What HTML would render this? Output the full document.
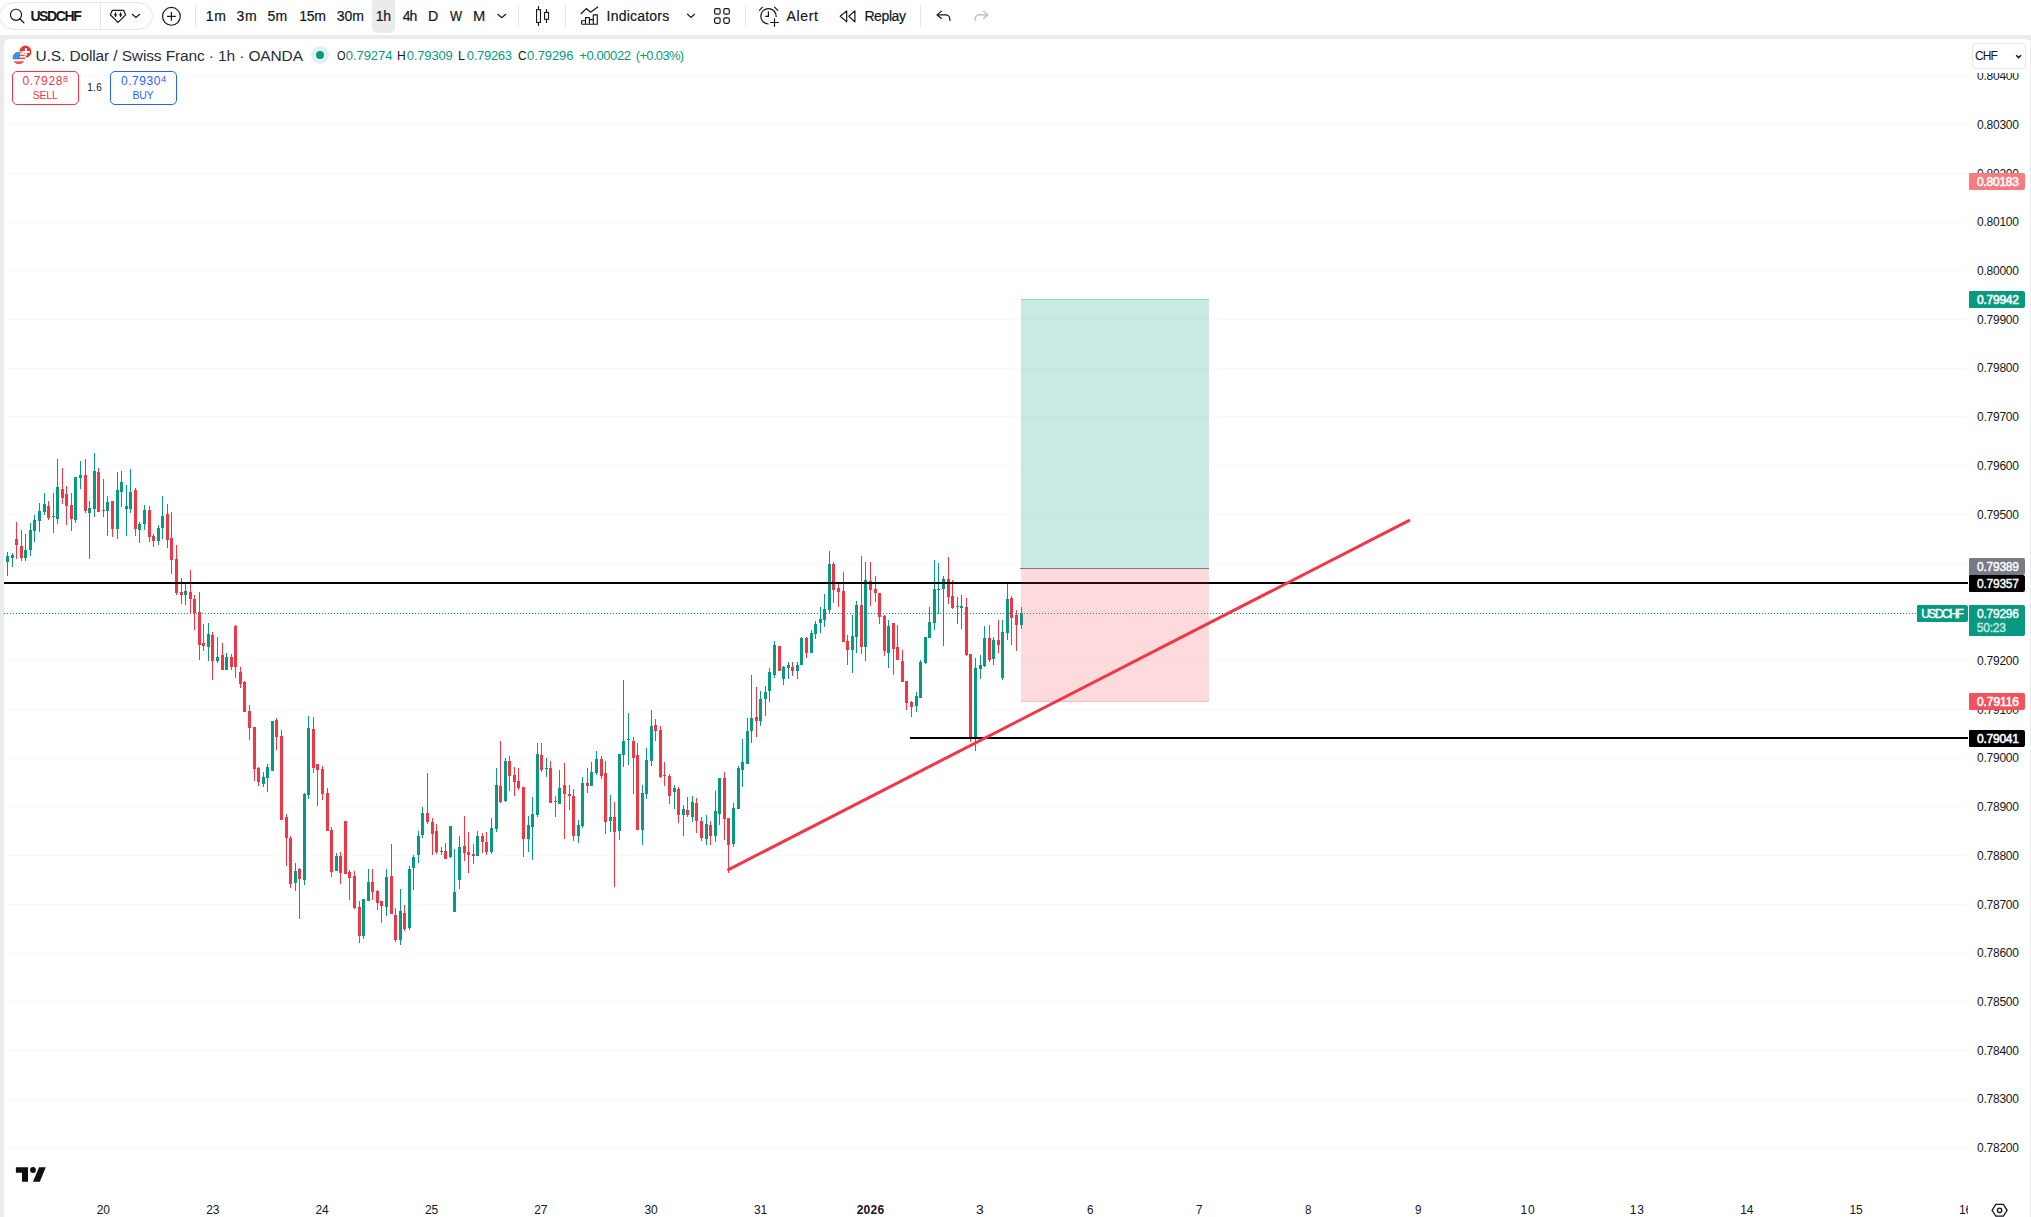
<!DOCTYPE html>
<html><head><meta charset="utf-8"><title>USDCHF</title>
<style>
*{box-sizing:border-box;margin:0;padding:0}
html,body{width:2031px;height:1217px;overflow:hidden;background:#ebebeb;font-family:"Liberation Sans",sans-serif;color:#131722}
#tb{position:absolute;left:0;top:0;width:2031px;height:35px;background:#fff}
#pane{position:absolute;left:4px;top:38.5px;width:2026px;height:1190px;background:#fff;border-radius:5px}
.t{position:absolute;white-space:nowrap;line-height:1}
.sep{position:absolute;top:5px;width:1px;height:22px;background:#e3e4e8}
.tag{position:absolute;border-radius:1px 2px 2px 1px;z-index:2}
#taxis{position:absolute;left:0;top:0;width:1968px;height:1217px;overflow:hidden}
svg{position:absolute}
#gfx{}
</style></head><body>
<div id="gfx">
<div id="tb"></div>
<div id="pane"></div>
<svg style="left:0;top:0" width="2031" height="1217" viewBox="0 0 2031 1217" shape-rendering="crispEdges">
<g id="grid">
<rect x="4" y="75" width="1964" height="1" fill="#f8f9fa"/>
<rect x="4" y="124" width="1964" height="1" fill="#f8f9fa"/>
<rect x="4" y="173" width="1964" height="1" fill="#f8f9fa"/>
<rect x="4" y="222" width="1964" height="1" fill="#f8f9fa"/>
<rect x="4" y="270" width="1964" height="1" fill="#f8f9fa"/>
<rect x="4" y="319" width="1964" height="1" fill="#f8f9fa"/>
<rect x="4" y="368" width="1964" height="1" fill="#f8f9fa"/>
<rect x="4" y="416" width="1964" height="1" fill="#f8f9fa"/>
<rect x="4" y="465" width="1964" height="1" fill="#f8f9fa"/>
<rect x="4" y="514" width="1964" height="1" fill="#f8f9fa"/>
<rect x="4" y="563" width="1964" height="1" fill="#f8f9fa"/>
<rect x="4" y="611" width="1964" height="1" fill="#f8f9fa"/>
<rect x="4" y="660" width="1964" height="1" fill="#f8f9fa"/>
<rect x="4" y="709" width="1964" height="1" fill="#f8f9fa"/>
<rect x="4" y="758" width="1964" height="1" fill="#f8f9fa"/>
<rect x="4" y="806" width="1964" height="1" fill="#f8f9fa"/>
<rect x="4" y="855" width="1964" height="1" fill="#f8f9fa"/>
<rect x="4" y="904" width="1964" height="1" fill="#f8f9fa"/>
<rect x="4" y="953" width="1964" height="1" fill="#f8f9fa"/>
<rect x="4" y="1001" width="1964" height="1" fill="#f8f9fa"/>
<rect x="4" y="1050" width="1964" height="1" fill="#f8f9fa"/>
<rect x="4" y="1099" width="1964" height="1" fill="#f8f9fa"/>
<rect x="4" y="1147" width="1964" height="1" fill="#f8f9fa"/>
</g>
<g id="candles">
<rect x="7" y="552" width="1" height="24" fill="#089981"/><rect x="6" y="556" width="3" height="6" fill="#089981"/>
<rect x="12" y="553" width="1" height="14" fill="#089981"/><rect x="11" y="555" width="3" height="3" fill="#089981"/>
<rect x="16" y="522" width="1" height="37" fill="#f23645"/><rect x="15" y="539" width="3" height="6" fill="#f23645"/>
<rect x="21" y="530" width="1" height="31" fill="#f23645"/><rect x="20" y="546" width="3" height="12" fill="#f23645"/>
<rect x="25" y="534" width="1" height="27" fill="#089981"/><rect x="24" y="550" width="3" height="8" fill="#089981"/>
<rect x="30" y="523" width="1" height="33" fill="#089981"/><rect x="29" y="530" width="3" height="20" fill="#089981"/>
<rect x="34" y="515" width="1" height="27" fill="#089981"/><rect x="33" y="520" width="3" height="11" fill="#089981"/>
<rect x="39" y="503" width="1" height="29" fill="#089981"/><rect x="38" y="511" width="3" height="10" fill="#089981"/>
<rect x="44" y="493" width="1" height="22" fill="#089981"/><rect x="43" y="504" width="3" height="8" fill="#089981"/>
<rect x="48" y="501" width="1" height="19" fill="#f23645"/><rect x="47" y="506" width="3" height="12" fill="#f23645"/>
<rect x="53" y="493" width="1" height="40" fill="#089981"/><rect x="52" y="516" width="3" height="1" fill="#089981"/>
<rect x="57" y="459" width="1" height="65" fill="#089981"/><rect x="56" y="487" width="3" height="32" fill="#089981"/>
<rect x="62" y="468" width="1" height="36" fill="#f23645"/><rect x="61" y="489" width="3" height="9" fill="#f23645"/>
<rect x="66" y="486" width="1" height="39" fill="#f23645"/><rect x="65" y="494" width="3" height="12" fill="#f23645"/>
<rect x="71" y="493" width="1" height="38" fill="#f23645"/><rect x="70" y="505" width="3" height="14" fill="#f23645"/>
<rect x="75" y="477" width="1" height="46" fill="#089981"/><rect x="74" y="477" width="3" height="43" fill="#089981"/>
<rect x="80" y="461" width="1" height="28" fill="#089981"/><rect x="79" y="475" width="3" height="3" fill="#089981"/>
<rect x="85" y="459" width="1" height="54" fill="#f23645"/><rect x="84" y="475" width="3" height="36" fill="#f23645"/>
<rect x="89" y="501" width="1" height="58" fill="#089981"/><rect x="88" y="508" width="3" height="5" fill="#089981"/>
<rect x="94" y="453" width="1" height="64" fill="#089981"/><rect x="93" y="471" width="3" height="38" fill="#089981"/>
<rect x="98" y="468" width="1" height="44" fill="#f23645"/><rect x="97" y="472" width="3" height="40" fill="#f23645"/>
<rect x="103" y="479" width="1" height="38" fill="#f23645"/><rect x="102" y="510" width="3" height="1" fill="#f23645"/>
<rect x="107" y="496" width="1" height="40" fill="#089981"/><rect x="106" y="502" width="3" height="9" fill="#089981"/>
<rect x="112" y="501" width="1" height="36" fill="#f23645"/><rect x="111" y="501" width="3" height="28" fill="#f23645"/>
<rect x="117" y="472" width="1" height="67" fill="#089981"/><rect x="116" y="490" width="3" height="39" fill="#089981"/>
<rect x="121" y="471" width="1" height="36" fill="#089981"/><rect x="120" y="482" width="3" height="10" fill="#089981"/>
<rect x="126" y="485" width="1" height="51" fill="#089981"/><rect x="125" y="506" width="3" height="3" fill="#089981"/>
<rect x="130" y="469" width="1" height="44" fill="#089981"/><rect x="129" y="492" width="3" height="17" fill="#089981"/>
<rect x="135" y="488" width="1" height="48" fill="#f23645"/><rect x="134" y="490" width="3" height="39" fill="#f23645"/>
<rect x="139" y="522" width="1" height="21" fill="#089981"/><rect x="138" y="524" width="3" height="6" fill="#089981"/>
<rect x="144" y="505" width="1" height="25" fill="#089981"/><rect x="143" y="510" width="3" height="14" fill="#089981"/>
<rect x="149" y="506" width="1" height="36" fill="#f23645"/><rect x="148" y="510" width="3" height="27" fill="#f23645"/>
<rect x="153" y="534" width="1" height="13" fill="#f23645"/><rect x="152" y="536" width="3" height="5" fill="#f23645"/>
<rect x="158" y="525" width="1" height="20" fill="#089981"/><rect x="157" y="528" width="3" height="13" fill="#089981"/>
<rect x="162" y="496" width="1" height="43" fill="#089981"/><rect x="161" y="516" width="3" height="12" fill="#089981"/>
<rect x="167" y="504" width="1" height="44" fill="#f23645"/><rect x="166" y="514" width="3" height="26" fill="#f23645"/>
<rect x="171" y="512" width="1" height="62" fill="#f23645"/><rect x="170" y="538" width="3" height="22" fill="#f23645"/>
<rect x="176" y="545" width="1" height="50" fill="#f23645"/><rect x="175" y="559" width="3" height="34" fill="#f23645"/>
<rect x="181" y="578" width="1" height="26" fill="#f23645"/><rect x="180" y="592" width="3" height="3" fill="#f23645"/>
<rect x="185" y="583" width="1" height="22" fill="#089981"/><rect x="184" y="591" width="3" height="4" fill="#089981"/>
<rect x="190" y="570" width="1" height="43" fill="#f23645"/><rect x="189" y="592" width="3" height="7" fill="#f23645"/>
<rect x="194" y="595" width="1" height="35" fill="#f23645"/><rect x="193" y="599" width="3" height="14" fill="#f23645"/>
<rect x="199" y="592" width="1" height="68" fill="#f23645"/><rect x="198" y="612" width="3" height="33" fill="#f23645"/>
<rect x="203" y="624" width="1" height="27" fill="#f23645"/><rect x="202" y="643" width="3" height="3" fill="#f23645"/>
<rect x="208" y="623" width="1" height="38" fill="#089981"/><rect x="207" y="634" width="3" height="13" fill="#089981"/>
<rect x="212" y="632" width="1" height="48" fill="#f23645"/><rect x="211" y="635" width="3" height="26" fill="#f23645"/>
<rect x="217" y="637" width="1" height="26" fill="#089981"/><rect x="216" y="657" width="3" height="4" fill="#089981"/>
<rect x="222" y="643" width="1" height="27" fill="#f23645"/><rect x="221" y="655" width="3" height="15" fill="#f23645"/>
<rect x="226" y="653" width="1" height="17" fill="#089981"/><rect x="225" y="657" width="3" height="13" fill="#089981"/>
<rect x="231" y="654" width="1" height="16" fill="#f23645"/><rect x="230" y="657" width="3" height="10" fill="#f23645"/>
<rect x="235" y="625" width="1" height="53" fill="#f23645"/><rect x="234" y="626" width="3" height="41" fill="#f23645"/>
<rect x="240" y="667" width="1" height="21" fill="#f23645"/><rect x="239" y="672" width="3" height="12" fill="#f23645"/>
<rect x="244" y="681" width="1" height="31" fill="#f23645"/><rect x="243" y="682" width="3" height="30" fill="#f23645"/>
<rect x="249" y="705" width="1" height="35" fill="#f23645"/><rect x="248" y="711" width="3" height="17" fill="#f23645"/>
<rect x="254" y="727" width="1" height="54" fill="#f23645"/><rect x="253" y="727" width="3" height="42" fill="#f23645"/>
<rect x="258" y="767" width="1" height="19" fill="#f23645"/><rect x="257" y="768" width="3" height="14" fill="#f23645"/>
<rect x="263" y="772" width="1" height="15" fill="#089981"/><rect x="262" y="777" width="3" height="7" fill="#089981"/>
<rect x="267" y="764" width="1" height="28" fill="#089981"/><rect x="266" y="767" width="3" height="11" fill="#089981"/>
<rect x="272" y="721" width="1" height="50" fill="#089981"/><rect x="271" y="721" width="3" height="50" fill="#089981"/>
<rect x="276" y="718" width="1" height="32" fill="#f23645"/><rect x="275" y="720" width="3" height="17" fill="#f23645"/>
<rect x="281" y="730" width="1" height="90" fill="#f23645"/><rect x="280" y="736" width="3" height="84" fill="#f23645"/>
<rect x="286" y="814" width="1" height="52" fill="#f23645"/><rect x="285" y="817" width="3" height="21" fill="#f23645"/>
<rect x="290" y="836" width="1" height="52" fill="#f23645"/><rect x="289" y="838" width="3" height="46" fill="#f23645"/>
<rect x="295" y="863" width="1" height="28" fill="#089981"/><rect x="294" y="871" width="3" height="12" fill="#089981"/>
<rect x="299" y="868" width="1" height="51" fill="#f23645"/><rect x="298" y="869" width="3" height="10" fill="#f23645"/>
<rect x="304" y="793" width="1" height="92" fill="#089981"/><rect x="303" y="794" width="3" height="86" fill="#089981"/>
<rect x="308" y="716" width="1" height="83" fill="#089981"/><rect x="307" y="728" width="3" height="67" fill="#089981"/>
<rect x="313" y="717" width="1" height="56" fill="#f23645"/><rect x="312" y="729" width="3" height="39" fill="#f23645"/>
<rect x="317" y="764" width="1" height="42" fill="#f23645"/><rect x="316" y="764" width="3" height="6" fill="#f23645"/>
<rect x="322" y="766" width="1" height="34" fill="#f23645"/><rect x="321" y="769" width="3" height="25" fill="#f23645"/>
<rect x="327" y="788" width="1" height="43" fill="#f23645"/><rect x="326" y="793" width="3" height="38" fill="#f23645"/>
<rect x="331" y="827" width="1" height="50" fill="#f23645"/><rect x="330" y="830" width="3" height="42" fill="#f23645"/>
<rect x="336" y="853" width="1" height="18" fill="#089981"/><rect x="335" y="856" width="3" height="15" fill="#089981"/>
<rect x="340" y="852" width="1" height="32" fill="#f23645"/><rect x="339" y="856" width="3" height="17" fill="#f23645"/>
<rect x="345" y="821" width="1" height="53" fill="#f23645"/><rect x="344" y="821" width="3" height="53" fill="#f23645"/>
<rect x="349" y="870" width="1" height="30" fill="#f23645"/><rect x="348" y="872" width="3" height="6" fill="#f23645"/>
<rect x="354" y="871" width="1" height="38" fill="#f23645"/><rect x="353" y="876" width="3" height="32" fill="#f23645"/>
<rect x="359" y="901" width="1" height="42" fill="#f23645"/><rect x="358" y="907" width="3" height="29" fill="#f23645"/>
<rect x="363" y="899" width="1" height="40" fill="#089981"/><rect x="362" y="899" width="3" height="37" fill="#089981"/>
<rect x="368" y="869" width="1" height="32" fill="#089981"/><rect x="367" y="882" width="3" height="19" fill="#089981"/>
<rect x="372" y="869" width="1" height="31" fill="#f23645"/><rect x="371" y="882" width="3" height="10" fill="#f23645"/>
<rect x="377" y="890" width="1" height="20" fill="#f23645"/><rect x="376" y="891" width="3" height="12" fill="#f23645"/>
<rect x="381" y="901" width="1" height="22" fill="#f23645"/><rect x="380" y="901" width="3" height="5" fill="#f23645"/>
<rect x="386" y="869" width="1" height="47" fill="#089981"/><rect x="385" y="877" width="3" height="30" fill="#089981"/>
<rect x="391" y="844" width="1" height="70" fill="#f23645"/><rect x="390" y="876" width="3" height="38" fill="#f23645"/>
<rect x="395" y="908" width="1" height="34" fill="#f23645"/><rect x="394" y="915" width="3" height="25" fill="#f23645"/>
<rect x="400" y="889" width="1" height="56" fill="#089981"/><rect x="399" y="911" width="3" height="29" fill="#089981"/>
<rect x="404" y="905" width="1" height="26" fill="#f23645"/><rect x="403" y="913" width="3" height="16" fill="#f23645"/>
<rect x="409" y="866" width="1" height="64" fill="#089981"/><rect x="408" y="869" width="3" height="59" fill="#089981"/>
<rect x="413" y="855" width="1" height="35" fill="#089981"/><rect x="412" y="857" width="3" height="11" fill="#089981"/>
<rect x="418" y="831" width="1" height="32" fill="#089981"/><rect x="417" y="836" width="3" height="19" fill="#089981"/>
<rect x="422" y="807" width="1" height="31" fill="#089981"/><rect x="421" y="813" width="3" height="22" fill="#089981"/>
<rect x="427" y="773" width="1" height="51" fill="#f23645"/><rect x="426" y="813" width="3" height="9" fill="#f23645"/>
<rect x="432" y="818" width="1" height="37" fill="#f23645"/><rect x="431" y="822" width="3" height="12" fill="#f23645"/>
<rect x="436" y="824" width="1" height="30" fill="#f23645"/><rect x="435" y="831" width="3" height="21" fill="#f23645"/>
<rect x="441" y="847" width="1" height="8" fill="#089981"/><rect x="440" y="851" width="3" height="1" fill="#089981"/>
<rect x="445" y="843" width="1" height="16" fill="#f23645"/><rect x="444" y="851" width="3" height="8" fill="#f23645"/>
<rect x="450" y="826" width="1" height="32" fill="#089981"/><rect x="449" y="826" width="3" height="31" fill="#089981"/>
<rect x="454" y="849" width="1" height="63" fill="#089981"/><rect x="453" y="892" width="3" height="20" fill="#089981"/>
<rect x="459" y="836" width="1" height="53" fill="#089981"/><rect x="458" y="847" width="3" height="33" fill="#089981"/>
<rect x="464" y="816" width="1" height="45" fill="#f23645"/><rect x="463" y="846" width="3" height="7" fill="#f23645"/>
<rect x="468" y="832" width="1" height="41" fill="#f23645"/><rect x="467" y="852" width="3" height="3" fill="#f23645"/>
<rect x="473" y="844" width="1" height="20" fill="#f23645"/><rect x="472" y="854" width="3" height="2" fill="#f23645"/>
<rect x="477" y="831" width="1" height="25" fill="#089981"/><rect x="476" y="836" width="3" height="20" fill="#089981"/>
<rect x="482" y="833" width="1" height="20" fill="#f23645"/><rect x="481" y="836" width="3" height="6" fill="#f23645"/>
<rect x="486" y="832" width="1" height="23" fill="#f23645"/><rect x="485" y="842" width="3" height="10" fill="#f23645"/>
<rect x="491" y="818" width="1" height="36" fill="#089981"/><rect x="490" y="828" width="3" height="24" fill="#089981"/>
<rect x="496" y="768" width="1" height="64" fill="#089981"/><rect x="495" y="785" width="3" height="44" fill="#089981"/>
<rect x="500" y="741" width="1" height="62" fill="#f23645"/><rect x="499" y="786" width="3" height="16" fill="#f23645"/>
<rect x="505" y="758" width="1" height="44" fill="#089981"/><rect x="504" y="761" width="3" height="40" fill="#089981"/>
<rect x="509" y="756" width="1" height="35" fill="#f23645"/><rect x="508" y="761" width="3" height="15" fill="#f23645"/>
<rect x="514" y="767" width="1" height="29" fill="#f23645"/><rect x="513" y="775" width="3" height="7" fill="#f23645"/>
<rect x="518" y="768" width="1" height="22" fill="#f23645"/><rect x="517" y="781" width="3" height="7" fill="#f23645"/>
<rect x="523" y="787" width="1" height="70" fill="#f23645"/><rect x="522" y="787" width="3" height="52" fill="#f23645"/>
<rect x="528" y="816" width="1" height="36" fill="#089981"/><rect x="527" y="825" width="3" height="14" fill="#089981"/>
<rect x="532" y="797" width="1" height="63" fill="#089981"/><rect x="531" y="814" width="3" height="13" fill="#089981"/>
<rect x="537" y="743" width="1" height="74" fill="#089981"/><rect x="536" y="754" width="3" height="61" fill="#089981"/>
<rect x="541" y="743" width="1" height="29" fill="#f23645"/><rect x="540" y="755" width="3" height="15" fill="#f23645"/>
<rect x="546" y="758" width="1" height="19" fill="#089981"/><rect x="545" y="768" width="3" height="1" fill="#089981"/>
<rect x="550" y="761" width="1" height="42" fill="#f23645"/><rect x="549" y="768" width="3" height="35" fill="#f23645"/>
<rect x="555" y="796" width="1" height="21" fill="#f23645"/><rect x="554" y="801" width="3" height="1" fill="#f23645"/>
<rect x="559" y="770" width="1" height="34" fill="#089981"/><rect x="558" y="788" width="3" height="16" fill="#089981"/>
<rect x="564" y="763" width="1" height="76" fill="#f23645"/><rect x="563" y="785" width="3" height="9" fill="#f23645"/>
<rect x="569" y="785" width="1" height="25" fill="#f23645"/><rect x="568" y="794" width="3" height="2" fill="#f23645"/>
<rect x="573" y="789" width="1" height="52" fill="#f23645"/><rect x="572" y="796" width="3" height="40" fill="#f23645"/>
<rect x="578" y="820" width="1" height="23" fill="#089981"/><rect x="577" y="825" width="3" height="11" fill="#089981"/>
<rect x="582" y="777" width="1" height="51" fill="#089981"/><rect x="581" y="783" width="3" height="43" fill="#089981"/>
<rect x="587" y="768" width="1" height="25" fill="#f23645"/><rect x="586" y="783" width="3" height="3" fill="#f23645"/>
<rect x="591" y="762" width="1" height="24" fill="#089981"/><rect x="590" y="772" width="3" height="14" fill="#089981"/>
<rect x="596" y="751" width="1" height="24" fill="#089981"/><rect x="595" y="759" width="3" height="14" fill="#089981"/>
<rect x="601" y="756" width="1" height="23" fill="#f23645"/><rect x="600" y="759" width="3" height="17" fill="#f23645"/>
<rect x="605" y="761" width="1" height="73" fill="#f23645"/><rect x="604" y="773" width="3" height="49" fill="#f23645"/>
<rect x="610" y="795" width="1" height="37" fill="#089981"/><rect x="609" y="817" width="3" height="4" fill="#089981"/>
<rect x="614" y="802" width="1" height="85" fill="#f23645"/><rect x="613" y="817" width="3" height="15" fill="#f23645"/>
<rect x="619" y="754" width="1" height="86" fill="#089981"/><rect x="618" y="754" width="3" height="77" fill="#089981"/>
<rect x="623" y="680" width="1" height="87" fill="#089981"/><rect x="622" y="741" width="3" height="14" fill="#089981"/>
<rect x="628" y="713" width="1" height="52" fill="#089981"/><rect x="627" y="739" width="3" height="1" fill="#089981"/>
<rect x="633" y="737" width="1" height="57" fill="#f23645"/><rect x="632" y="741" width="3" height="17" fill="#f23645"/>
<rect x="637" y="743" width="1" height="87" fill="#f23645"/><rect x="636" y="755" width="3" height="75" fill="#f23645"/>
<rect x="642" y="785" width="1" height="60" fill="#089981"/><rect x="641" y="793" width="3" height="37" fill="#089981"/>
<rect x="646" y="748" width="1" height="51" fill="#089981"/><rect x="645" y="760" width="3" height="34" fill="#089981"/>
<rect x="651" y="710" width="1" height="56" fill="#089981"/><rect x="650" y="726" width="3" height="35" fill="#089981"/>
<rect x="655" y="719" width="1" height="22" fill="#f23645"/><rect x="654" y="725" width="3" height="6" fill="#f23645"/>
<rect x="660" y="726" width="1" height="52" fill="#f23645"/><rect x="659" y="730" width="3" height="47" fill="#f23645"/>
<rect x="664" y="762" width="1" height="24" fill="#f23645"/><rect x="663" y="775" width="3" height="1" fill="#f23645"/>
<rect x="669" y="774" width="1" height="30" fill="#f23645"/><rect x="668" y="776" width="3" height="20" fill="#f23645"/>
<rect x="674" y="785" width="1" height="24" fill="#089981"/><rect x="673" y="788" width="3" height="4" fill="#089981"/>
<rect x="678" y="787" width="1" height="36" fill="#f23645"/><rect x="677" y="789" width="3" height="26" fill="#f23645"/>
<rect x="683" y="805" width="1" height="31" fill="#089981"/><rect x="682" y="809" width="3" height="6" fill="#089981"/>
<rect x="687" y="797" width="1" height="20" fill="#f23645"/><rect x="686" y="810" width="3" height="5" fill="#f23645"/>
<rect x="692" y="796" width="1" height="26" fill="#089981"/><rect x="691" y="802" width="3" height="15" fill="#089981"/>
<rect x="696" y="798" width="1" height="35" fill="#f23645"/><rect x="695" y="803" width="3" height="18" fill="#f23645"/>
<rect x="701" y="817" width="1" height="24" fill="#f23645"/><rect x="700" y="821" width="3" height="17" fill="#f23645"/>
<rect x="706" y="815" width="1" height="30" fill="#089981"/><rect x="705" y="824" width="3" height="15" fill="#089981"/>
<rect x="710" y="821" width="1" height="24" fill="#f23645"/><rect x="709" y="825" width="3" height="11" fill="#f23645"/>
<rect x="715" y="791" width="1" height="51" fill="#089981"/><rect x="714" y="811" width="3" height="25" fill="#089981"/>
<rect x="719" y="778" width="1" height="47" fill="#089981"/><rect x="718" y="778" width="3" height="36" fill="#089981"/>
<rect x="724" y="772" width="1" height="68" fill="#f23645"/><rect x="723" y="778" width="3" height="41" fill="#f23645"/>
<rect x="728" y="818" width="1" height="55" fill="#f23645"/><rect x="727" y="818" width="3" height="27" fill="#f23645"/>
<rect x="733" y="803" width="1" height="44" fill="#089981"/><rect x="732" y="808" width="3" height="36" fill="#089981"/>
<rect x="738" y="766" width="1" height="43" fill="#089981"/><rect x="737" y="768" width="3" height="41" fill="#089981"/>
<rect x="742" y="739" width="1" height="48" fill="#089981"/><rect x="741" y="762" width="3" height="8" fill="#089981"/>
<rect x="747" y="718" width="1" height="46" fill="#089981"/><rect x="746" y="731" width="3" height="33" fill="#089981"/>
<rect x="751" y="675" width="1" height="68" fill="#089981"/><rect x="750" y="718" width="3" height="13" fill="#089981"/>
<rect x="756" y="687" width="1" height="50" fill="#f23645"/><rect x="755" y="717" width="3" height="4" fill="#f23645"/>
<rect x="760" y="691" width="1" height="35" fill="#089981"/><rect x="759" y="699" width="3" height="22" fill="#089981"/>
<rect x="765" y="686" width="1" height="30" fill="#089981"/><rect x="764" y="692" width="3" height="7" fill="#089981"/>
<rect x="769" y="668" width="1" height="34" fill="#089981"/><rect x="768" y="672" width="3" height="19" fill="#089981"/>
<rect x="774" y="641" width="1" height="37" fill="#089981"/><rect x="773" y="645" width="3" height="30" fill="#089981"/>
<rect x="779" y="646" width="1" height="25" fill="#f23645"/><rect x="778" y="646" width="3" height="25" fill="#f23645"/>
<rect x="783" y="666" width="1" height="19" fill="#089981"/><rect x="782" y="667" width="3" height="12" fill="#089981"/>
<rect x="788" y="662" width="1" height="17" fill="#089981"/><rect x="787" y="665" width="3" height="3" fill="#089981"/>
<rect x="792" y="662" width="1" height="14" fill="#f23645"/><rect x="791" y="667" width="3" height="4" fill="#f23645"/>
<rect x="797" y="662" width="1" height="17" fill="#089981"/><rect x="796" y="665" width="3" height="6" fill="#089981"/>
<rect x="801" y="637" width="1" height="28" fill="#089981"/><rect x="800" y="638" width="3" height="27" fill="#089981"/>
<rect x="806" y="637" width="1" height="21" fill="#f23645"/><rect x="805" y="638" width="3" height="15" fill="#f23645"/>
<rect x="811" y="630" width="1" height="23" fill="#089981"/><rect x="810" y="633" width="3" height="20" fill="#089981"/>
<rect x="815" y="621" width="1" height="18" fill="#089981"/><rect x="814" y="624" width="3" height="10" fill="#089981"/>
<rect x="820" y="607" width="1" height="26" fill="#089981"/><rect x="819" y="619" width="3" height="4" fill="#089981"/>
<rect x="824" y="594" width="1" height="33" fill="#089981"/><rect x="823" y="609" width="3" height="11" fill="#089981"/>
<rect x="829" y="551" width="1" height="63" fill="#089981"/><rect x="828" y="564" width="3" height="46" fill="#089981"/>
<rect x="833" y="562" width="1" height="41" fill="#f23645"/><rect x="832" y="564" width="3" height="26" fill="#f23645"/>
<rect x="838" y="582" width="1" height="25" fill="#f23645"/><rect x="837" y="588" width="3" height="4" fill="#f23645"/>
<rect x="843" y="572" width="1" height="70" fill="#f23645"/><rect x="842" y="591" width="3" height="51" fill="#f23645"/>
<rect x="847" y="635" width="1" height="30" fill="#f23645"/><rect x="846" y="641" width="3" height="9" fill="#f23645"/>
<rect x="852" y="615" width="1" height="58" fill="#089981"/><rect x="851" y="636" width="3" height="14" fill="#089981"/>
<rect x="856" y="601" width="1" height="52" fill="#089981"/><rect x="855" y="605" width="3" height="32" fill="#089981"/>
<rect x="861" y="556" width="1" height="98" fill="#f23645"/><rect x="860" y="605" width="3" height="42" fill="#f23645"/>
<rect x="865" y="562" width="1" height="99" fill="#089981"/><rect x="864" y="580" width="3" height="67" fill="#089981"/>
<rect x="870" y="562" width="1" height="44" fill="#f23645"/><rect x="869" y="581" width="3" height="9" fill="#f23645"/>
<rect x="875" y="576" width="1" height="26" fill="#f23645"/><rect x="874" y="589" width="3" height="4" fill="#f23645"/>
<rect x="879" y="593" width="1" height="31" fill="#f23645"/><rect x="878" y="593" width="3" height="24" fill="#f23645"/>
<rect x="884" y="615" width="1" height="41" fill="#f23645"/><rect x="883" y="616" width="3" height="35" fill="#f23645"/>
<rect x="888" y="620" width="1" height="48" fill="#089981"/><rect x="887" y="626" width="3" height="27" fill="#089981"/>
<rect x="893" y="623" width="1" height="52" fill="#f23645"/><rect x="892" y="623" width="3" height="26" fill="#f23645"/>
<rect x="897" y="625" width="1" height="35" fill="#f23645"/><rect x="896" y="647" width="3" height="13" fill="#f23645"/>
<rect x="902" y="650" width="1" height="32" fill="#f23645"/><rect x="901" y="661" width="3" height="21" fill="#f23645"/>
<rect x="906" y="681" width="1" height="29" fill="#f23645"/><rect x="905" y="681" width="3" height="22" fill="#f23645"/>
<rect x="911" y="701" width="1" height="16" fill="#f23645"/><rect x="910" y="702" width="3" height="5" fill="#f23645"/>
<rect x="916" y="692" width="1" height="20" fill="#089981"/><rect x="915" y="696" width="3" height="10" fill="#089981"/>
<rect x="920" y="660" width="1" height="38" fill="#089981"/><rect x="919" y="662" width="3" height="36" fill="#089981"/>
<rect x="925" y="637" width="1" height="27" fill="#089981"/><rect x="924" y="637" width="3" height="26" fill="#089981"/>
<rect x="929" y="607" width="1" height="31" fill="#089981"/><rect x="928" y="622" width="3" height="16" fill="#089981"/>
<rect x="934" y="560" width="1" height="70" fill="#089981"/><rect x="933" y="589" width="3" height="34" fill="#089981"/>
<rect x="938" y="563" width="1" height="51" fill="#089981"/><rect x="937" y="589" width="3" height="1" fill="#089981"/>
<rect x="943" y="576" width="1" height="70" fill="#089981"/><rect x="942" y="579" width="3" height="10" fill="#089981"/>
<rect x="948" y="557" width="1" height="47" fill="#f23645"/><rect x="947" y="579" width="3" height="18" fill="#f23645"/>
<rect x="952" y="580" width="1" height="29" fill="#f23645"/><rect x="951" y="596" width="3" height="12" fill="#f23645"/>
<rect x="957" y="597" width="1" height="27" fill="#089981"/><rect x="956" y="606" width="3" height="1" fill="#089981"/>
<rect x="961" y="595" width="1" height="34" fill="#089981"/><rect x="960" y="606" width="3" height="2" fill="#089981"/>
<rect x="966" y="598" width="1" height="58" fill="#f23645"/><rect x="965" y="607" width="3" height="48" fill="#f23645"/>
<rect x="970" y="654" width="1" height="88" fill="#f23645"/><rect x="969" y="654" width="3" height="83" fill="#f23645"/>
<rect x="975" y="658" width="1" height="93" fill="#089981"/><rect x="974" y="668" width="3" height="70" fill="#089981"/>
<rect x="980" y="655" width="1" height="24" fill="#089981"/><rect x="979" y="665" width="3" height="4" fill="#089981"/>
<rect x="984" y="626" width="1" height="41" fill="#089981"/><rect x="983" y="638" width="3" height="28" fill="#089981"/>
<rect x="989" y="625" width="1" height="37" fill="#f23645"/><rect x="988" y="638" width="3" height="22" fill="#f23645"/>
<rect x="993" y="637" width="1" height="28" fill="#089981"/><rect x="992" y="640" width="3" height="19" fill="#089981"/>
<rect x="998" y="620" width="1" height="33" fill="#f23645"/><rect x="997" y="640" width="3" height="5" fill="#f23645"/>
<rect x="1002" y="620" width="1" height="60" fill="#089981"/><rect x="1001" y="632" width="3" height="46" fill="#089981"/>
<rect x="1007" y="583" width="1" height="57" fill="#089981"/><rect x="1006" y="599" width="3" height="34" fill="#089981"/>
<rect x="1011" y="596" width="1" height="49" fill="#f23645"/><rect x="1010" y="598" width="3" height="20" fill="#f23645"/>
<rect x="1016" y="610" width="1" height="41" fill="#f23645"/><rect x="1015" y="615" width="3" height="10" fill="#f23645"/>
<rect x="1021" y="607" width="1" height="22" fill="#089981"/><rect x="1020" y="613" width="3" height="12" fill="#089981"/>
</g>
<line x1="4" y1="613.5" x2="1917" y2="613.5" stroke="#089981" stroke-width="1" stroke-dasharray="1 2"/>
<rect x="4" y="582" width="1964" height="2" fill="#000"/>
<rect x="910" y="737" width="1058" height="2" fill="#000"/>
<rect x="1021" y="299" width="188" height="269" fill="#089981" fill-opacity="0.22"/>
<rect x="1021" y="299" width="188" height="1" fill="#089981" fill-opacity="0.25"/>
<rect x="1021" y="569" width="188" height="133" fill="#f23645" fill-opacity="0.18"/>
<rect x="1021" y="701" width="188" height="1" fill="#f23645" fill-opacity="0.2"/>
<rect x="1020" y="568" width="189" height="1" fill="#787b86"/>
<line x1="728.6" y1="869.6" x2="1408.8" y2="520.6" stroke="#f23645" stroke-width="3" stroke-linecap="round" shape-rendering="geometricPrecision"/>
</svg>
<!-- toolbar graphics -->
<div style="position:absolute;left:-1px;top:1.5px;width:153.5px;height:28.5px;border:1px solid #e4e5e8;border-radius:14px"></div>
<div style="position:absolute;left:100px;top:2px;width:1px;height:27px;background:#e4e5e8"></div>
<div class="sep" style="left:195px"></div>
<div style="position:absolute;left:372px;top:-4px;width:22.5px;height:37px;background:#ebebeb;border-radius:5px"></div>
<div class="sep" style="left:518px"></div>
<div class="sep" style="left:565px"></div>
<div class="sep" style="left:745px"></div>
<div class="sep" style="left:920px"></div>
<svg style="left:0;top:0" width="1000" height="35" viewBox="0 0 1000 35" fill="none" stroke="#131722" stroke-width="1.2">
<circle cx="16" cy="14.800" r="5.550"/><path d="M19.900 19l4 3.800" stroke-linecap="round"/>
<path d="M112.400 10.300h11.200l2 4.500-7.600 7.600-7.700-7.600z" stroke-linejoin="round"/>
<path d="M115.500 12.300v4.700M120.600 12.300v4.700" stroke-width="1"/><path d="M115.500 13.300l1.300 1.500-1.300 1.500-1.300-1.500zM120.600 13.300l1.300 1.500-1.300 1.500-1.300-1.500z" fill="#131722" stroke-width="0.500"/>
<path d="M132 14l3.950 3.500 4.050-3.500" stroke-width="1.200"/>
<circle cx="171.400" cy="16.350" r="8.900"/><path d="M167 16.350h8.800M171.400 12v8.800"/>
<path d="M497.500 14l4.300 3.800 4.300-3.800" stroke-width="1.150"/>
<path d="M538.500 6v3.600M538.500 22.400v3.500M546.500 9.100v3.300M546.500 19.300v3.700" stroke-width="1.100"/>
<rect x="536.550" y="9.650" width="3.900" height="12.800" stroke-width="1.100"/><rect x="544.600" y="12.450" width="3.900" height="6.850" stroke-width="1.100"/>
<path d="M580.800 14l5.600-5.350 4.200 3.550 7.500-5.350" stroke-width="1.250"/>
<path d="M581.650 24.200v-3.500h4M585.500 24.200v-6.600h3.900v6.600M589.400 19.600h3.900v4.600M593.300 24.200v-9.400h4v9.400zM581.650 24.200h15.650" stroke-width="1.150" stroke-linejoin="round"/>
<path d="M687.200 14l3.800 3.500 3.800-3.500" stroke-width="1.150"/>
<rect x="714.600" y="8.700" width="5.500" height="5.500" rx="1.500"/><rect x="723.800" y="8.700" width="5.500" height="5.500" rx="1.500"/><rect x="714.600" y="17.850" width="5.500" height="5.500" rx="1.500"/><rect x="723.800" y="17.850" width="5.500" height="5.500" rx="1.500"/>
<path d="M776.150 17a7.700 7.700 0 1 0-7.500 7"/><path d="M768.400 11.300v5.100h-3.200"/><path d="M759.100 10.600l3.700-3.700M774.300 6.900l3.700 3.700"/><path d="M770.200 22.500h8.600M774.500 18.200v8.600"/>
<path d="M846.700 10.900l-6.500 5.400 6.500 5.600zM854.900 10.900l-6.100 5.400 6.100 5.600z" stroke-linejoin="round"/>
<path d="M941.700 10.900l-4.600 4 4.600 3.900"/><path d="M937.100 14.900h8.400a4.400 4.400 0 0 1 4.400 4.400v1.600"/>
<g stroke="#b2b5be"><path d="M983.200 10.900l4.600 4-4.600 3.900"/><path d="M987.800 14.900h-8.400a4.400 4.400 0 0 0-4.400 4.400v1.600"/></g>
</svg>
<!-- legend graphics -->
<svg style="left:11px;top:44px" width="22" height="22" viewBox="0 0 22 22">
<circle cx="14.400" cy="7.700" r="6.100" fill="#e53935"/>
<path d="M13.900 4.300h2.100v2.600h2.700v2.100h-2.700v2.600h-2.100v-2.600h-2.700v-2.100h2.700z" fill="#fff"/>
<circle cx="7.900" cy="14" r="7.100" fill="#fff"/>
<clipPath id="usc"><circle cx="7.900" cy="14" r="6.200"/></clipPath>
<g clip-path="url(#usc)"><rect x="0" y="7" width="16" height="14" fill="#fff"/>
<rect x="0" y="7.700" width="16" height="1.500" fill="#ef5350"/><rect x="0" y="10.600" width="16" height="1.500" fill="#ef5350"/><rect x="0" y="13.500" width="16" height="1.600" fill="#ef5350"/><rect x="0" y="17.300" width="16" height="3.500" fill="#ef5350"/>
<rect x="0" y="7" width="8.800" height="8.200" fill="#1e88e5"/>
<g fill="#fff" fill-opacity="0.85"><circle cx="3.200" cy="10" r="0.450"/><circle cx="5.200" cy="10" r="0.450"/><circle cx="7.200" cy="10" r="0.450"/><circle cx="3.200" cy="11.900" r="0.450"/><circle cx="5.200" cy="11.900" r="0.450"/><circle cx="7.200" cy="11.900" r="0.450"/><circle cx="3.200" cy="13.800" r="0.450"/><circle cx="5.200" cy="13.800" r="0.450"/><circle cx="7.200" cy="13.800" r="0.450"/><circle cx="5.200" cy="8.300" r="0.450"/><circle cx="7.200" cy="8.300" r="0.450"/></g></g>
</svg>
<div style="position:absolute;left:311px;top:46px;width:18px;height:18px;border-radius:9px;background:#def3ef"></div>
<div style="position:absolute;left:316px;top:51px;width:8px;height:8px;border-radius:4px;background:#089981"></div>
<div style="position:absolute;left:12px;top:71px;width:67px;height:34px;border:1px solid #f23645;border-radius:5px"></div>
<div style="position:absolute;left:110px;top:71px;width:67px;height:34px;border:1px solid #2962ff;border-radius:5px"></div>
<!-- price axis graphics -->
<div style="position:absolute;left:1969px;top:40px;width:61px;height:33px;background:#fff;z-index:2"></div>
<div style="position:absolute;left:1972px;top:43px;width:54px;height:26px;border:1px solid #e6e7ea;border-radius:4px;background:#fff;z-index:2"></div>
<svg style="left:2014px;top:52px;z-index:3" width="9" height="8" viewBox="0 0 9 8" fill="none" stroke="#131722" stroke-width="1.5"><path d="M2.200 3.300l2.400 2.300 2.400-2.300"/></svg>
<div class="tag" style="left:1969px;top:173px;width:56px;height:17px;background:#f77c80"></div>
<div class="tag" style="left:1969px;top:291px;width:56px;height:17px;background:#089981"></div>
<div class="tag" style="left:1969px;top:558px;width:56px;height:17px;background:#787b86"></div>
<div class="tag" style="left:1969px;top:575px;width:56px;height:17px;background:#000"></div>
<div class="tag" style="left:1969px;top:605px;width:56px;height:31px;background:#089981"></div>
<div class="tag" style="left:1917px;top:605px;width:51px;height:17px;background:#089981"></div>
<div class="tag" style="left:1969px;top:693px;width:56px;height:17px;background:#f4515f"></div>
<div class="tag" style="left:1969px;top:730px;width:56px;height:17px;background:#000"></div>
<svg style="left:1990px;top:1200px" width="20" height="20" viewBox="0 0 20 20" fill="none" stroke="#131722" stroke-width="1.300"><path d="M5.800 4.400h7.600l3.700 5.900-3.700 5.900H5.800L2.100 10.300z"/><circle cx="9.600" cy="10.300" r="2.200"/></svg>
<svg style="left:15px;top:1166px" width="32" height="17" viewBox="0 0 32 17" fill="#0f0f0f"><path d="M0.900 1.200h12.100v14.600h-6v-9h-6.100z"/><circle cx="18" cy="4" r="2.900"/><path d="M24.100 1.200h6.700l-6 14.600h-6.800z"/></svg>
</div>
<!-- texts -->
<div class="t" id="sym" style="left:30.40px;top:9.15px;font-size:14px;font-weight:bold;color:#131722;letter-spacing:-1.389px;">USDCHF</div>
<div class="t" id="tf1" style="left:205.80px;top:9.45px;font-size:14px;font-weight:normal;color:#131722;letter-spacing:0.547px;;-webkit-text-stroke:0.2px #131722">1m</div>
<div class="t" id="tf3" style="left:236.60px;top:9.45px;font-size:14px;font-weight:normal;color:#131722;letter-spacing:0.547px;;-webkit-text-stroke:0.2px #131722">3m</div>
<div class="t" id="tf5" style="left:267.60px;top:9.45px;font-size:14px;font-weight:normal;color:#131722;letter-spacing:0.147px;;-webkit-text-stroke:0.2px #131722">5m</div>
<div class="t" id="tf15" style="left:299.20px;top:9.45px;font-size:14px;font-weight:normal;color:#131722;letter-spacing:-0.217px;;-webkit-text-stroke:0.2px #131722">15m</div>
<div class="t" id="tf30" style="left:336.80px;top:9.45px;font-size:14px;font-weight:normal;color:#131722;letter-spacing:-0.117px;;-webkit-text-stroke:0.2px #131722">30m</div>
<div class="t" id="tf1h" style="left:375.80px;top:9.45px;font-size:14px;font-weight:normal;color:#131722;letter-spacing:-0.378px;;-webkit-text-stroke:0.2px #131722">1h</div>
<div class="t" id="tf4h" style="left:402.80px;top:9.45px;font-size:14px;font-weight:normal;color:#131722;letter-spacing:-1.178px;;-webkit-text-stroke:0.2px #131722">4h</div>
<div class="t" id="tfD" style="left:428.35px;top:9.45px;font-size:14px;font-weight:normal;color:#131722;letter-spacing:0.000px;;transform-origin:0 0;transform:scaleX(1.0125);-webkit-text-stroke:0.2px #131722">D</div>
<div class="t" id="tfW" style="left:449.95px;top:9.45px;font-size:14px;font-weight:normal;color:#131722;letter-spacing:0.000px;;transform-origin:0 0;transform:scaleX(0.9154);-webkit-text-stroke:0.2px #131722">W</div>
<div class="t" id="tfM" style="left:472.55px;top:9.45px;font-size:14px;font-weight:normal;color:#131722;letter-spacing:0.000px;;transform-origin:0 0;transform:scaleX(1.0500);-webkit-text-stroke:0.2px #131722">M</div>
<div class="t" id="ind" style="left:606.60px;top:9.45px;font-size:14px;font-weight:normal;color:#131722;letter-spacing:0.211px;;-webkit-text-stroke:0.2px #131722">Indicators</div>
<div class="t" id="alert" style="left:786.60px;top:9.45px;font-size:14px;font-weight:normal;color:#131722;letter-spacing:0.651px;;-webkit-text-stroke:0.2px #131722">Alert</div>
<div class="t" id="replay" style="left:864.40px;top:9.45px;font-size:14px;font-weight:normal;color:#131722;letter-spacing:-0.399px;;-webkit-text-stroke:0.2px #131722">Replay</div>
<div class="t" id="title" style="left:35.60px;top:47.93px;font-size:15.5px;font-weight:normal;color:#2a2e39;letter-spacing:-0.129px;">U.S. Dollar / Swiss Franc · 1h · OANDA</div>
<div class="t" id="lO" style="left:336.50px;top:49.43px;font-size:13px;font-weight:normal;color:#131722;letter-spacing:0.000px;;transform-origin:0 0;transform:scaleX(0.8444)">O</div>
<div class="t" id="lOv" style="left:345.80px;top:49.43px;font-size:13px;font-weight:normal;color:#089981;letter-spacing:-0.067px;">0.79274</div>
<div class="t" id="lH" style="left:397.30px;top:49.43px;font-size:13px;font-weight:normal;color:#131722;letter-spacing:0.000px;;transform-origin:0 0;transform:scaleX(0.9250)">H</div>
<div class="t" id="lHv" style="left:406.80px;top:49.43px;font-size:13px;font-weight:normal;color:#089981;letter-spacing:-0.167px;">0.79309</div>
<div class="t" id="lL" style="left:458.30px;top:49.43px;font-size:13px;font-weight:normal;color:#131722;letter-spacing:0.000px;;transform-origin:0 0;transform:scaleX(0.9667)">L</div>
<div class="t" id="lLv" style="left:466.80px;top:49.43px;font-size:13px;font-weight:normal;color:#089981;letter-spacing:-0.300px;">0.79263</div>
<div class="t" id="lC" style="left:518.15px;top:49.43px;font-size:13px;font-weight:normal;color:#131722;letter-spacing:0.000px;;transform-origin:0 0;transform:scaleX(0.9125)">C</div>
<div class="t" id="lCv" style="left:527.00px;top:49.43px;font-size:13px;font-weight:normal;color:#089981;letter-spacing:-0.100px;">0.79296</div>
<div class="t" id="lch" style="left:579.20px;top:49.43px;font-size:13px;font-weight:normal;color:#089981;letter-spacing:-0.399px;">+0.00022</div>
<div class="t" id="lpc" style="left:635.80px;top:49.43px;font-size:13px;font-weight:normal;color:#089981;letter-spacing:-0.675px;">(+0.03%)</div>
<div class="t" id="sellp" style="left:22.40px;top:74.82px;font-size:12px;font-weight:normal;color:#f23645;letter-spacing:0.659px;">0.7928</div>
<div class="t" id="sells" style="left:62.70px;top:75.06px;font-size:9px;font-weight:normal;color:#f23645;letter-spacing:0.000px;;transform-origin:0 0;transform:scaleX(0.9600)">8</div>
<div class="t" id="sell" style="left:32.80px;top:90.04px;font-size:10.5px;font-weight:normal;color:#f23645;letter-spacing:-0.229px;">SELL</div>
<div class="t" id="spr" style="left:87.20px;top:82.98px;font-size:10px;font-weight:normal;color:#131722;letter-spacing:0.347px;">1.6</div>
<div class="t" id="buyp" style="left:121.00px;top:74.82px;font-size:12px;font-weight:normal;color:#2962ff;letter-spacing:0.539px;">0.7930</div>
<div class="t" id="buys" style="left:161.05px;top:75.06px;font-size:9px;font-weight:normal;color:#2962ff;letter-spacing:0.000px;;transform-origin:0 0;transform:scaleX(1.0600)">4</div>
<div class="t" id="buy" style="left:132.40px;top:90.04px;font-size:10.5px;font-weight:normal;color:#2962ff;letter-spacing:-0.197px;">BUY</div>
<div class="t" id="chf" style="left:1975.00px;top:49.82px;font-size:12px;font-weight:normal;color:#131722;letter-spacing:-0.936px;z-index:3">CHF</div>
<div class="t" id="p0" style="left:1977.00px;top:70.09px;font-size:12px;font-weight:normal;color:#131722;letter-spacing:-0.232px;z-index:1">0.80400</div>
<div class="t" id="p1" style="left:1977.00px;top:118.82px;font-size:12px;font-weight:normal;color:#131722;letter-spacing:-0.232px;z-index:1">0.80300</div>
<div class="t" id="p2" style="left:1977.00px;top:167.55px;font-size:12px;font-weight:normal;color:#131722;letter-spacing:-0.232px;z-index:1">0.80200</div>
<div class="t" id="p3" style="left:1977.00px;top:216.28px;font-size:12px;font-weight:normal;color:#131722;letter-spacing:-0.232px;z-index:1">0.80100</div>
<div class="t" id="p4" style="left:1977.00px;top:265.01px;font-size:12px;font-weight:normal;color:#131722;letter-spacing:-0.232px;z-index:1">0.80000</div>
<div class="t" id="p5" style="left:1977.00px;top:313.74px;font-size:12px;font-weight:normal;color:#131722;letter-spacing:-0.232px;z-index:1">0.79900</div>
<div class="t" id="p6" style="left:1977.00px;top:362.47px;font-size:12px;font-weight:normal;color:#131722;letter-spacing:-0.232px;z-index:1">0.79800</div>
<div class="t" id="p7" style="left:1977.00px;top:411.20px;font-size:12px;font-weight:normal;color:#131722;letter-spacing:-0.232px;z-index:1">0.79700</div>
<div class="t" id="p8" style="left:1977.00px;top:459.93px;font-size:12px;font-weight:normal;color:#131722;letter-spacing:-0.232px;z-index:1">0.79600</div>
<div class="t" id="p9" style="left:1977.00px;top:508.66px;font-size:12px;font-weight:normal;color:#131722;letter-spacing:-0.232px;z-index:1">0.79500</div>
<div class="t" id="p10" style="left:1977.00px;top:557.39px;font-size:12px;font-weight:normal;color:#131722;letter-spacing:-0.232px;z-index:1">0.79400</div>
<div class="t" id="p11" style="left:1977.00px;top:606.12px;font-size:12px;font-weight:normal;color:#131722;letter-spacing:-0.232px;z-index:1">0.79300</div>
<div class="t" id="p12" style="left:1977.00px;top:654.85px;font-size:12px;font-weight:normal;color:#131722;letter-spacing:-0.232px;z-index:1">0.79200</div>
<div class="t" id="p13" style="left:1977.00px;top:703.58px;font-size:12px;font-weight:normal;color:#131722;letter-spacing:-0.232px;z-index:1">0.79100</div>
<div class="t" id="p14" style="left:1977.00px;top:752.31px;font-size:12px;font-weight:normal;color:#131722;letter-spacing:-0.232px;z-index:1">0.79000</div>
<div class="t" id="p15" style="left:1977.00px;top:801.04px;font-size:12px;font-weight:normal;color:#131722;letter-spacing:-0.232px;z-index:1">0.78900</div>
<div class="t" id="p16" style="left:1977.00px;top:849.77px;font-size:12px;font-weight:normal;color:#131722;letter-spacing:-0.232px;z-index:1">0.78800</div>
<div class="t" id="p17" style="left:1977.00px;top:898.50px;font-size:12px;font-weight:normal;color:#131722;letter-spacing:-0.232px;z-index:1">0.78700</div>
<div class="t" id="p18" style="left:1977.00px;top:947.23px;font-size:12px;font-weight:normal;color:#131722;letter-spacing:-0.232px;z-index:1">0.78600</div>
<div class="t" id="p19" style="left:1977.00px;top:995.96px;font-size:12px;font-weight:normal;color:#131722;letter-spacing:-0.232px;z-index:1">0.78500</div>
<div class="t" id="p20" style="left:1977.00px;top:1044.69px;font-size:12px;font-weight:normal;color:#131722;letter-spacing:-0.232px;z-index:1">0.78400</div>
<div class="t" id="p21" style="left:1977.00px;top:1093.42px;font-size:12px;font-weight:normal;color:#131722;letter-spacing:-0.232px;z-index:1">0.78300</div>
<div class="t" id="p22" style="left:1977.00px;top:1142.15px;font-size:12px;font-weight:normal;color:#131722;letter-spacing:-0.232px;z-index:1">0.78200</div>
<div class="t" id="g1" style="left:1977.00px;top:175.83px;font-size:12px;font-weight:normal;color:#fff;letter-spacing:-0.232px;z-index:3;-webkit-text-stroke:0.55px #fff">0.80183</div>
<div class="t" id="g2" style="left:1977.00px;top:293.72px;font-size:12px;font-weight:normal;color:#fff;letter-spacing:-0.232px;z-index:3;-webkit-text-stroke:0.55px #fff">0.79942</div>
<div class="t" id="g3" style="left:1977.00px;top:560.82px;font-size:12px;font-weight:normal;color:#fff;letter-spacing:-0.232px;z-index:3;-webkit-text-stroke:0.4px #fff">0.79389</div>
<div class="t" id="g4" style="left:1977.00px;top:578.02px;font-size:12px;font-weight:normal;color:#fff;letter-spacing:-0.232px;z-index:3;-webkit-text-stroke:0.4px #fff">0.79357</div>
<div class="t" id="g5" style="left:1977.00px;top:607.92px;font-size:12px;font-weight:normal;color:#fff;letter-spacing:-0.232px;z-index:3;-webkit-text-stroke:0.4px #fff">0.79296</div>
<div class="t" id="g5b" style="left:1976.80px;top:621.92px;font-size:12px;font-weight:normal;color:#c5e8e1;letter-spacing:-0.208px;z-index:3;-webkit-text-stroke:0.4px #c5e8e1">50:23</div>
<div class="t" id="g5c" style="left:1921.20px;top:607.92px;font-size:12px;font-weight:normal;color:#fff;letter-spacing:-1.480px;z-index:3;-webkit-text-stroke:0.4px #fff">USDCHF</div>
<div class="t" id="g6" style="left:1977.00px;top:695.72px;font-size:12px;font-weight:normal;color:#fff;letter-spacing:-0.083px;z-index:3;-webkit-text-stroke:0.55px #fff">0.79116</div>
<div class="t" id="g7" style="left:1977.00px;top:732.62px;font-size:12px;font-weight:normal;color:#fff;letter-spacing:-0.232px;z-index:3;-webkit-text-stroke:0.55px #fff">0.79041</div>
<div id="taxis">
<div class="t" id="d0" style="left:96.80px;top:1203.92px;font-size:12px;font-weight:normal;color:#131722;letter-spacing:-0.159px;">20</div>
<div class="t" id="d1" style="left:206.16px;top:1203.92px;font-size:12px;font-weight:normal;color:#131722;letter-spacing:-0.159px;">23</div>
<div class="t" id="d2" style="left:315.52px;top:1203.92px;font-size:12px;font-weight:normal;color:#131722;letter-spacing:-0.159px;">24</div>
<div class="t" id="d3" style="left:424.88px;top:1203.92px;font-size:12px;font-weight:normal;color:#131722;letter-spacing:-0.159px;">25</div>
<div class="t" id="d4" style="left:534.24px;top:1203.92px;font-size:12px;font-weight:normal;color:#131722;letter-spacing:-0.159px;">27</div>
<div class="t" id="d5" style="left:644.60px;top:1203.92px;font-size:12px;font-weight:normal;color:#131722;letter-spacing:-0.159px;">30</div>
<div class="t" id="d6" style="left:753.96px;top:1203.92px;font-size:12px;font-weight:normal;color:#131722;letter-spacing:-0.159px;">31</div>
<div class="t" id="d7" style="left:856.72px;top:1203.92px;font-size:12px;font-weight:bold;color:#131722;letter-spacing:0.232px;">2026</div>
<div class="t" id="d8" style="left:975.88px;top:1203.92px;font-size:12px;font-weight:normal;color:#131722;letter-spacing:0.000px;;transform-origin:0 0;transform:scaleX(1.1600)">3</div>
<div class="t" id="d9" style="left:1086.74px;top:1203.92px;font-size:12px;font-weight:normal;color:#131722;letter-spacing:0.000px;;transform-origin:0 0;transform:scaleX(0.9667)">6</div>
<div class="t" id="d10" style="left:1196.10px;top:1203.92px;font-size:12px;font-weight:normal;color:#131722;letter-spacing:0.000px;;transform-origin:0 0;transform:scaleX(0.9667)">7</div>
<div class="t" id="d11" style="left:1305.46px;top:1203.92px;font-size:12px;font-weight:normal;color:#131722;letter-spacing:0.000px;;transform-origin:0 0;transform:scaleX(0.9667)">8</div>
<div class="t" id="d12" style="left:1414.82px;top:1203.92px;font-size:12px;font-weight:normal;color:#131722;letter-spacing:0.000px;;transform-origin:0 0;transform:scaleX(0.9667)">9</div>
<div class="t" id="d13" style="left:1520.48px;top:1203.92px;font-size:12px;font-weight:normal;color:#131722;letter-spacing:0.841px;">10</div>
<div class="t" id="d14" style="left:1629.84px;top:1203.92px;font-size:12px;font-weight:normal;color:#131722;letter-spacing:0.841px;">13</div>
<div class="t" id="d15" style="left:1740.20px;top:1203.92px;font-size:12px;font-weight:normal;color:#131722;letter-spacing:-0.159px;">14</div>
<div class="t" id="d16" style="left:1849.56px;top:1203.92px;font-size:12px;font-weight:normal;color:#131722;letter-spacing:-0.159px;">15</div>
<div class="t" id="d17" style="left:1958.92px;top:1203.92px;font-size:12px;font-weight:normal;color:#131722;letter-spacing:-0.159px;">16</div>
</div>
</body></html>
